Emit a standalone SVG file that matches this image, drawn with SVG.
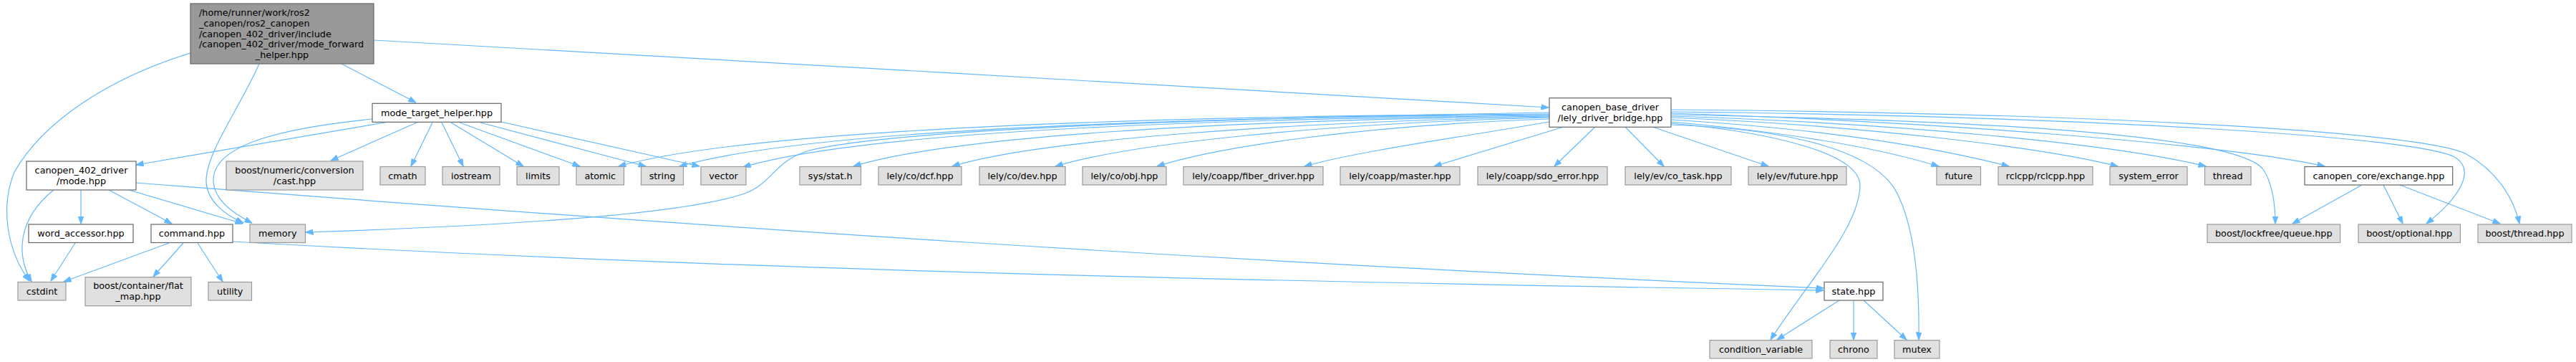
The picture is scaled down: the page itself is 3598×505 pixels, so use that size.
<svg xmlns="http://www.w3.org/2000/svg" width="3598" height="505" viewBox="0 0 3598 505">
<style>
text{font-family:"DejaVu Sans","Liberation Sans",sans-serif;font-size:12.8px;fill:#000;text-anchor:middle}
text.l{text-anchor:start}
.g rect{fill:#e0e0e0;stroke:#999999;stroke-width:1.2}
.d rect{fill:#ffffff;stroke:#666666;stroke-width:1.2}
.m rect{fill:#999999;stroke:#666666;stroke-width:1.2}
#edges path{fill:none;stroke:#63b8ff;stroke-width:1.2;marker-end:url(#a)}
</style>
<defs>
<marker id="a" viewBox="0 0 11 8" refX="10.5" refY="4" markerWidth="11" markerHeight="8" markerUnits="userSpaceOnUse" orient="auto">
<path d="M0,0 L11,4 L0,8 Z" fill="#63b8ff" stroke="#63b8ff" stroke-width="0.8"/>
</marker>
</defs>
<rect width="3598" height="505" fill="#ffffff"/>
<g id="edges">
<path d="M477,89 L581,143"/>
<path d="M522,56 C 1000,82 1700,124 2163,150"/>
<path d="M362,89 C 335,150 290,210 288,250 C 287,280 315,300 340,311"/>
<path d="M266,74 C 150,110 60,170 20,240 C 0,290 10,350 41,392"/>
<path d="M543,170 L190,230"/>
<path d="M520,166 C 400,178 300,200 298,250 C 297,280 330,300 352,311"/>
<path d="M582,171 L462,224"/>
<path d="M604,171 L574,232"/>
<path d="M617,171 L647,232"/>
<path d="M630,171 L731,232"/>
<path d="M642,171 L810,232"/>
<path d="M671,171 L902,232"/>
<path d="M700,170 L977,232"/>
<path d="M75,265 C 25,305 22,355 44,393"/>
<path d="M113,265 L113,312"/>
<path d="M152,265 L240,312"/>
<path d="M180,265 L339,312"/>
<path d="M190,255 C 1000,318 1700,365 2547,402"/>
<path d="M236,339 L89,393"/>
<path d="M256,339 L214,386"/>
<path d="M276,339 L311,393"/>
<path d="M325,337 C 1000,375 1700,392 2547,405"/>
<path d="M105,339 L71,392"/>
<path d="M2164,157 C 1700,165 1250,180 1130,210 C 1080,225 1080,255 1040,270 C 950,300 700,315 427,324"/>
<path d="M2164,159 C 1600,162 1050,180 864,232"/>
<path d="M2164,160 C 1600,164 1120,183 949,232"/>
<path d="M2164,161 C 1650,166 1200,185 1038,233"/>
<path d="M2164,162 C 1700,168 1330,190 1192,232"/>
<path d="M2164,163 C 1800,170 1450,195 1330,232"/>
<path d="M2164,164 C 1850,172 1580,200 1474,232"/>
<path d="M2164,166 C 1900,175 1700,205 1616,232"/>
<path d="M2164,170 C 2050,190 1900,210 1822,232"/>
<path d="M2184,177 L2003,232"/>
<path d="M2228,177 L2171,232"/>
<path d="M2270,177 L2324,232"/>
<path d="M2308,177 L2470,232"/>
<path d="M2334,170 C 2500,185 2620,205 2708,232"/>
<path d="M2334,167 C 2550,180 2700,205 2806,232"/>
<path d="M2334,164 C 2600,175 2850,205 2958,232"/>
<path d="M2334,162 C 2650,172 2950,200 3081,232"/>
<path d="M2334,158 C 2700,170 3100,200 3247,232"/>
<path d="M2334,160 C 2800,168 3120,190 3160,235 C 3175,255 3178,290 3178,312"/>
<path d="M2334,156 C 2900,162 3380,190 3430,220 C 3460,240 3430,280 3389,312"/>
<path d="M2334,153 C 2950,158 3390,185 3445,215 C 3490,240 3512,280 3519,312"/>
<path d="M2334,172 C 2480,185 2600,215 2598,260 C 2596,320 2520,400 2473,474"/>
<path d="M2334,174 C 2500,180 2620,210 2650,270 C 2675,320 2681,400 2680,474"/>
<path d="M3299,258 L3202,312"/>
<path d="M3329,258 L3356,312"/>
<path d="M3352,258 L3492,312"/>
<path d="M2569,419 L2482,474"/>
<path d="M2589,419 L2589,474"/>
<path d="M2603,419 L2663,474"/>
</g>
<g id="n_main" class="m"><rect x="266" y="5" width="256" height="84"/>
<text class="l" x="278" y="21.9">/home/runner/work/ros2</text>
<text class="l" x="278" y="36.7">_canopen/ros2_canopen</text>
<text class="l" x="278" y="51.5">/canopen_402_driver/include</text>
<text class="l" x="278" y="66.3">/canopen_402_driver/mode_forward</text>
<text x="394" y="81.1">_helper.hpp</text></g>
<g id="n_mode_target" class="d"><rect x="520" y="144.3" width="180" height="26"/><text x="610" y="161.8">mode_target_helper.hpp</text></g>
<g id="n_bridge" class="d"><rect x="2164" y="136.7" width="170" height="40.6"/><text x="2249" y="153.8">canopen_base_driver</text><text x="2249" y="168.5">/lely_driver_bridge.hpp</text></g>
<g id="n_mode" class="d"><rect x="37" y="225" width="153" height="40"/><text x="113.5" y="241.5">canopen_402_driver</text><text x="113.5" y="256.5">/mode.hpp</text></g>
<g id="n_cast" class="g"><rect x="316" y="225" width="191" height="40"/><text x="411.5" y="241.5">boost/numeric/conversion</text><text x="411.5" y="256.5">/cast.hpp</text></g>
<g id="n_cmath" class="g"><rect x="531" y="232.5" width="63" height="25.5"/><text x="562.5" y="249.7">cmath</text></g>
<g id="n_iostream" class="g"><rect x="618" y="232.5" width="80" height="25.5"/><text x="658" y="249.7">iostream</text></g>
<g id="n_limits" class="g"><rect x="722" y="232.5" width="59" height="25.5"/><text x="751.5" y="249.7">limits</text></g>
<g id="n_atomic" class="g"><rect x="805" y="232.5" width="66.5" height="25.5"/><text x="838.25" y="249.7">atomic</text></g>
<g id="n_string" class="g"><rect x="895.5" y="232.5" width="59" height="25.5"/><text x="925" y="249.7">string</text></g>
<g id="n_vector" class="g"><rect x="979" y="232.5" width="63" height="25.5"/><text x="1010.5" y="249.7">vector</text></g>
<g id="n_stat" class="g"><rect x="1117" y="232.5" width="85.5" height="25.5"/><text x="1159.75" y="249.7">sys/stat.h</text></g>
<g id="n_dcf" class="g"><rect x="1227" y="232.5" width="116" height="25.5"/><text x="1285" y="249.7">lely/co/dcf.hpp</text></g>
<g id="n_dev" class="g"><rect x="1368" y="232.5" width="120" height="25.5"/><text x="1428" y="249.7">lely/co/dev.hpp</text></g>
<g id="n_obj" class="g"><rect x="1512" y="232.5" width="117" height="25.5"/><text x="1570.5" y="249.7">lely/co/obj.hpp</text></g>
<g id="n_fiber" class="g"><rect x="1653" y="232.5" width="195" height="25.5"/><text x="1750.5" y="249.7">lely/coapp/fiber_driver.hpp</text></g>
<g id="n_master" class="g"><rect x="1872" y="232.5" width="167" height="25.5"/><text x="1955.5" y="249.7">lely/coapp/master.hpp</text></g>
<g id="n_sdo" class="g"><rect x="2064" y="232.5" width="181" height="25.5"/><text x="2154.5" y="249.7">lely/coapp/sdo_error.hpp</text></g>
<g id="n_cotask" class="g"><rect x="2270" y="232.5" width="148" height="25.5"/><text x="2344" y="249.7">lely/ev/co_task.hpp</text></g>
<g id="n_evfuture" class="g"><rect x="2442" y="232.5" width="137" height="25.5"/><text x="2510.5" y="249.7">lely/ev/future.hpp</text></g>
<g id="n_future" class="g"><rect x="2705" y="232.5" width="61.5" height="25.5"/><text x="2735.75" y="249.7">future</text></g>
<g id="n_rclcpp" class="g"><rect x="2791" y="232.5" width="132" height="25.5"/><text x="2857" y="249.7">rclcpp/rclcpp.hpp</text></g>
<g id="n_syserr" class="g"><rect x="2947" y="232.5" width="108" height="25.5"/><text x="3001" y="249.7">system_error</text></g>
<g id="n_thread" class="g"><rect x="3079.5" y="232.5" width="64.5" height="25.5"/><text x="3111.75" y="249.7">thread</text></g>
<g id="n_exchange" class="d"><rect x="3219" y="232.5" width="206.7" height="25.5"/><text x="3322.35" y="249.7">canopen_core/exchange.hpp</text></g>
<g id="n_word" class="d"><rect x="40" y="313" width="146" height="25.5"/><text x="113" y="330.2">word_accessor.hpp</text></g>
<g id="n_command" class="d"><rect x="211" y="313" width="114" height="25.5"/><text x="268" y="330.2">command.hpp</text></g>
<g id="n_memory" class="g"><rect x="349" y="313" width="77.5" height="25.5"/><text x="387.75" y="330.2">memory</text></g>
<g id="n_lockfree" class="g"><rect x="3083" y="313" width="185.6" height="25.5"/><text x="3175.8" y="330.2">boost/lockfree/queue.hpp</text></g>
<g id="n_optional" class="g"><rect x="3294" y="313" width="142.4" height="25.5"/><text x="3365.2" y="330.2">boost/optional.hpp</text></g>
<g id="n_bthread" class="g"><rect x="3461" y="313" width="131" height="25.5"/><text x="3526.5" y="330.2">boost/thread.hpp</text></g>
<g id="n_cstdint" class="g"><rect x="25" y="393.5" width="67" height="25.5"/><text x="58.5" y="410.7">cstdint</text></g>
<g id="n_flatmap" class="g"><rect x="119" y="386.7" width="148" height="40"/><text x="193" y="402.8">boost/container/flat</text><text x="193" y="417.8">_map.hpp</text></g>
<g id="n_utility" class="g"><rect x="291" y="393.5" width="60.5" height="25.5"/><text x="321.25" y="410.7">utility</text></g>
<g id="n_state" class="d"><rect x="2548" y="393.5" width="82" height="25.5"/><text x="2589" y="410.7">state.hpp</text></g>
<g id="n_condvar" class="g"><rect x="2388" y="474.7" width="143" height="25.3"/><text x="2459.5" y="491.8">condition_variable</text></g>
<g id="n_chrono" class="g"><rect x="2556" y="474.7" width="66" height="25.3"/><text x="2589" y="491.8">chrono</text></g>
<g id="n_mutex" class="g"><rect x="2646" y="474.7" width="63" height="25.3"/><text x="2677.5" y="491.8">mutex</text></g>
</svg>
